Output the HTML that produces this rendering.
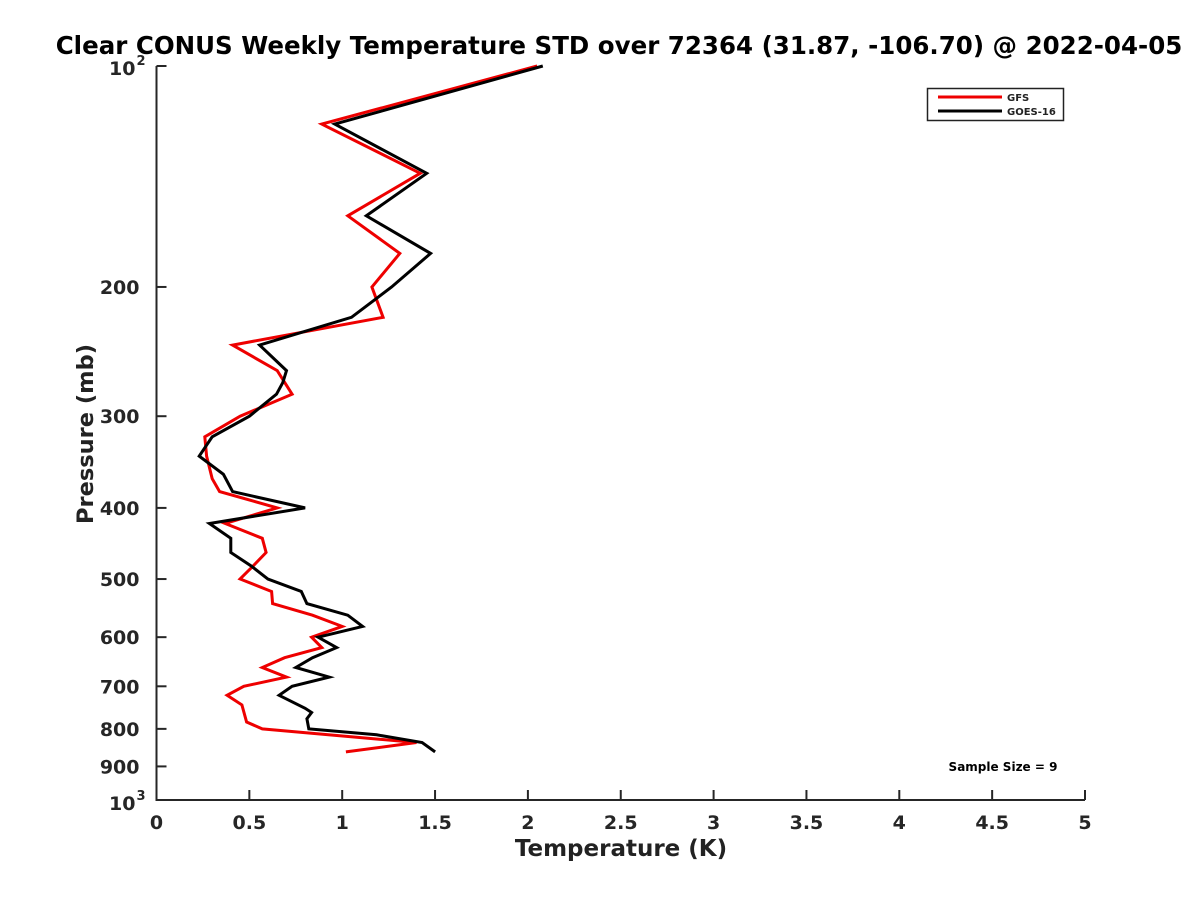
<!DOCTYPE html>
<html><head><meta charset="utf-8"><style>
body{margin:0;background:#fff;}
svg{display:block;font-family:"DejaVu Sans","Liberation Sans",sans-serif;font-weight:bold;}
</style></head><body>
<svg id="chart" width="1200" height="900" viewBox="0 0 1200 900">
<text x="619" y="54" font-size="24.5" text-anchor="middle" fill="#000">Clear CONUS Weekly Temperature STD over 72364 (31.87, -106.70) @ 2022-04-05</text>
<g id="axes"></g>
<g id="series"></g>
<g>
<rect x="927.5" y="88.5" width="136" height="32" fill="#fff" stroke="#222" stroke-width="1.5"/>
<line x1="938" y1="97" x2="1002" y2="97" stroke="#e00" stroke-width="3"/>
<text x="1007" y="101" font-size="10" fill="#222">GFS</text>
<line x1="938" y1="111" x2="1002" y2="111" stroke="#000" stroke-width="3"/>
<text x="1007" y="115" font-size="10" fill="#222">GOES-16</text>
</g>
<text x="1003" y="771" font-size="12" text-anchor="middle" fill="#000">Sample Size = 9</text>
<text x="621" y="856" font-size="23" text-anchor="middle" fill="#222">Temperature (K)</text>
<text transform="translate(93,434) rotate(-90)" font-size="22.5" text-anchor="middle" fill="#222">Pressure (mb)</text>
</svg>
<script>
const xTicks=[0,0.5,1,1.5,2,2.5,3,3.5,4,4.5,5];
const xTickLabels=["0","0.5","1","1.5","2","2.5","3","3.5","4","4.5","5"];
const yTicks=[200,300,400,500,600,700,800,900];
const gfsP=[100,120,140,160,180,200,220,240,260,280,300,320,340,365,380,400,420,440,460,480,500,520,540,560,580,600,620,640,660,680,700,720,742,783,800,835,860];
const gfsT=[2.05,0.89,1.42,1.03,1.31,1.16,1.22,0.41,0.65,0.73,0.45,0.26,0.27,0.30,0.34,0.65,0.37,0.57,0.59,0.52,0.45,0.62,0.625,0.84,1.00,0.835,0.89,0.69,0.57,0.70,0.47,0.38,0.46,0.485,0.57,1.40,1.02];
const goesP=[100,120,140,160,180,200,220,240,260,270,280,300,320,340,360,380,400,420,440,460,480,500,520,540,560,580,600,620,640,660,680,700,720,750,760,775,800,815,835,860];
const goesT=[2.08,0.96,1.455,1.13,1.476,1.266,1.05,0.555,0.70,0.68,0.646,0.50,0.30,0.23,0.36,0.41,0.80,0.285,0.40,0.40,0.51,0.60,0.78,0.81,1.03,1.11,0.87,0.97,0.84,0.75,0.93,0.73,0.66,0.80,0.835,0.81,0.82,1.185,1.43,1.50];

const X0=156.5,X1=1085,Y0=66,Y1=800;
const xs=t=>X0+(t/5)*(X1-X0);
const ys=p=>Y0+Math.log10(p/100)*(Y1-Y0);
const NS="http://www.w3.org/2000/svg";
function mk(tag,attrs,parent){const e=document.createElementNS(NS,tag);for(const k in attrs)e.setAttribute(k,attrs[k]);parent.appendChild(e);return e;}
const axes=document.getElementById('axes');
const ax=mk('path',{d:`M${X0},${Y0} V${Y1} H${X1}`,fill:'none',stroke:'#262626','stroke-width':2},axes);


xTicks.forEach((t,i)=>{
  const x=xs(t);
  const l=mk('line',{x1:x,y1:Y1,x2:x,y2:Y1-10,stroke:'#262626','stroke-width':2},axes);
  
  
  const tx=mk('text',{x:x,y:Y1+29,'font-size':19,'text-anchor':'middle',fill:'#262626'},axes);
  tx.textContent=xTickLabels[i];
  
  
});
[100,1000].concat(yTicks).forEach(p=>{
  const y=ys(p);
  const l=mk('line',{x1:X0,y1:y,x2:X0+10,y2:y,stroke:'#262626','stroke-width':2},axes);
  
  
});
yTicks.forEach(p=>{
  const tx=mk('text',{x:X0-17,y:ys(p)+7,'font-size':19,'text-anchor':'end',fill:'#262626'},axes);
  tx.textContent=String(p);
  
  
});
[[100,"2"],[1000,"3"]].forEach(([p,e])=>{
  const tx=mk('text',{x:X0-21,y:ys(p)+(p===100?9:10),'font-size':19,'text-anchor':'end',fill:'#262626'},axes);
  tx.textContent="10";
  
  
  const sx=mk('text',{x:X0-20,y:ys(p)+(p===100?-1:0),'font-size':13,fill:'#262626'},axes);
  sx.textContent=e;
  
  
});
const ser=document.getElementById('series');
function line(P,T,color,name){
  const pts=P.map((p,i)=>xs(T[i]).toFixed(1)+','+ys(p).toFixed(1)).join(' ');
  const pl=mk('polyline',{points:pts,fill:'none',stroke:color,'stroke-width':3,'stroke-linejoin':'miter'},ser);
  
  
}
line(gfsP,gfsT,'#e00','gfs-line');
line(goesP,goesT,'#000','goes16-line');
</script>
</body></html>
